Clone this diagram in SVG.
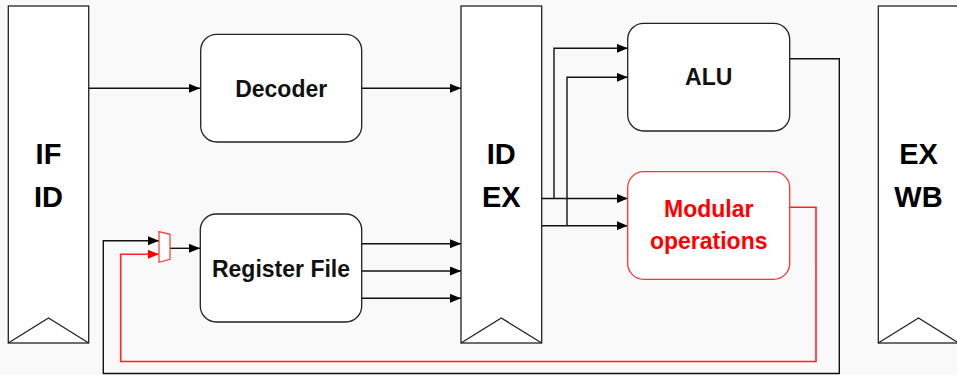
<svg xmlns="http://www.w3.org/2000/svg" width="957" height="375" viewBox="0 0 957 375">
  <defs>
    <marker id="ah" viewBox="0 0 11 9" refX="11" refY="4.5" markerWidth="11" markerHeight="9" markerUnits="userSpaceOnUse" orient="auto">
      <path d="M0,0 L11,4.5 L0,9 Z" fill="#000"/>
    </marker>
    <marker id="ahr" viewBox="0 0 11 9" refX="11" refY="4.5" markerWidth="11" markerHeight="9" markerUnits="userSpaceOnUse" orient="auto">
      <path d="M0,0 L11,4.5 L0,9 Z" fill="#ff0000"/>
    </marker>
  </defs>
  <style>
    .latch { fill: #ffffff; stroke: #222; stroke-width: 1.3; }
    .chev { fill: none; stroke: #222; stroke-width: 1.3; }
    .blk { fill: #ffffff; stroke: #222; stroke-width: 1.3; }
    .blkr { fill: #ffffff; stroke: #ff3333; stroke-width: 1.3; }
    .big { font-family: "Liberation Sans", Arial, sans-serif; font-weight: bold; font-size: 29px; fill: #000; text-anchor: middle; }
    .lbl { font-family: "Liberation Sans", Arial, sans-serif; font-weight: bold; font-size: 23px; fill: #111; text-anchor: middle; }
    .lblr { font-family: "Liberation Sans", Arial, sans-serif; font-weight: bold; font-size: 23px; fill: #ff0000; text-anchor: middle; }
    .w { fill: none; stroke: #111; stroke-width: 1.4; }
    .wr { fill: none; stroke: #ff2222; stroke-width: 1.6; }
  </style>
  <rect x="0" y="0" width="957" height="375" fill="#f9f9f9"/>

  <g id="connectors">
    <path class="w" d="M88.7,88.3 H200" marker-end="url(#ah)"/>
    <path class="w" d="M361.7,88.3 H461" marker-end="url(#ah)"/>
    <path class="w" d="M361.7,243.7 H461" marker-end="url(#ah)"/>
    <path class="w" d="M361.7,271 H461" marker-end="url(#ah)"/>
    <path class="w" d="M361.7,298.3 H461" marker-end="url(#ah)"/>
    <path class="w" d="M541.7,198.5 H627.7" marker-end="url(#ah)"/>
    <path class="w" d="M541.7,225.7 H627.7" marker-end="url(#ah)"/>
    <path class="w" d="M554,198.5 V48.3 H627.7" marker-end="url(#ah)"/>
    <path class="w" d="M567,225.7 V77.3 H627.7" marker-end="url(#ah)"/>
    <path class="w" d="M789.7,58.7 H839.3 V373.5 H103.3 V240.7 H159" marker-end="url(#ah)"/>
    <path class="wr" d="M789.7,207.3 H816 V361.5 H120.7 V254.3 H159" marker-end="url(#ahr)"/>
    <path class="w" d="M170,248.3 H200" marker-end="url(#ah)"/>
  </g>

  <g id="if-id">
    <rect class="latch" x="8.3" y="6" width="80.4" height="337"/>
    <path class="chev" d="M8.3,343 L48.5,318 L88.7,343"/>
    <text class="big" x="48.5" y="164">IF</text>
    <text class="big" x="48.5" y="206.5">ID</text>
  </g>

  <g id="id-ex">
    <rect class="latch" x="461" y="6" width="80.7" height="337"/>
    <path class="chev" d="M461,343 L501.3,318 L541.7,343"/>
    <text class="big" x="501.3" y="164">ID</text>
    <text class="big" x="501.3" y="206.5">EX</text>
  </g>

  <g id="ex-wb">
    <rect class="latch" x="878.3" y="6" width="80.4" height="337"/>
    <path class="chev" d="M878.3,343 L918.5,318 L958.7,343"/>
    <text class="big" x="918.5" y="164">EX</text>
    <text class="big" x="918.5" y="206.5">WB</text>
  </g>

  <g id="decoder">
    <rect class="blk" x="200.7" y="34.3" width="161" height="107.7" rx="16"/>
    <text class="lbl" x="281.2" y="96.5">Decoder</text>
  </g>

  <g id="register-file">
    <rect class="blk" x="200.3" y="214" width="161.4" height="108" rx="16"/>
    <text class="lbl" x="281" y="276.7">Register File</text>
  </g>

  <g id="mux">
    <path fill="#ffffff" stroke="#ff3333" stroke-width="1.2" d="M159,231.7 L170,234.3 L170,259.3 L159,262.3 Z"/>
  </g>

  <g id="alu">
    <rect class="blk" x="627.7" y="23.3" width="162" height="107.7" rx="16"/>
    <text class="lbl" x="708.7" y="85">ALU</text>
  </g>

  <g id="modular">
    <rect class="blkr" x="627.7" y="171.7" width="162" height="107.6" rx="16"/>
    <text class="lblr" x="708.7" y="217.3">Modular</text>
    <text class="lblr" x="708.7" y="248.5">operations</text>
  </g>
</svg>
